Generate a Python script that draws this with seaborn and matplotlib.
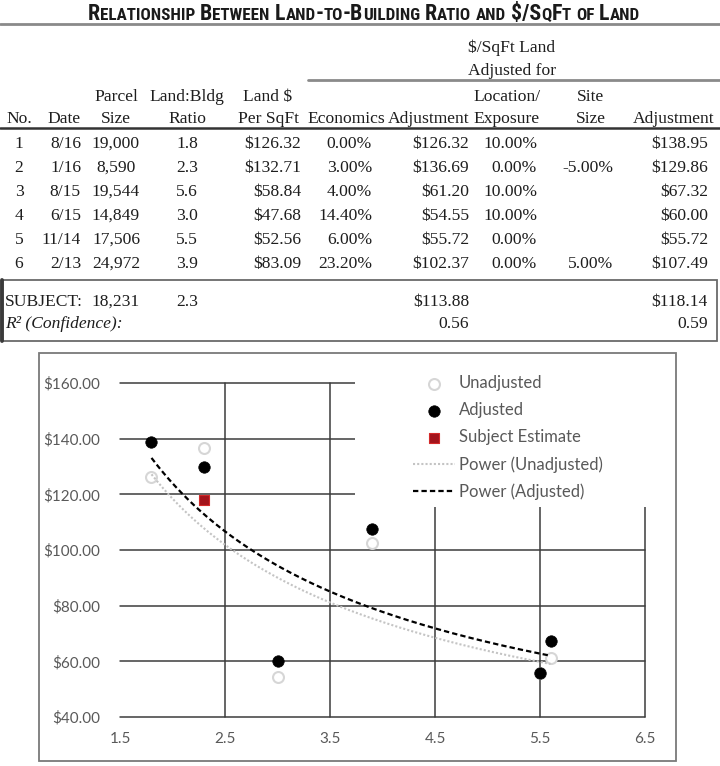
import numpy as np
import pandas as pd
import matplotlib
matplotlib.use("Agg")
import matplotlib.pyplot as plt
import seaborn as sns
from matplotlib.patches import Rectangle
from matplotlib.lines import Line2D
from matplotlib import font_manager

# ---------------- data ----------------
comp_no = ["1", "2", "3", "4", "5", "6"]
sale_date = ["8/16", "1/16", "8/15", "6/15", "11/14", "2/13"]
parcel_size = ["19,000", "8,590", "19,544", "14,849", "17,506", "24,972"]
land_bldg_ratio = [1.8, 2.3, 5.6, 3.0, 5.5, 3.9]
land_per_sqft = [126.32, 132.71, 58.84, 47.68, 52.56, 83.09]
economics_adj = ["0.00%", "3.00%", "4.00%", "14.40%", "6.00%", "23.20%"]
econ_adjusted = [126.32, 136.69, 61.20, 54.55, 55.72, 102.37]
location_adj = ["10.00%", "0.00%", "10.00%", "10.00%", "0.00%", "0.00%"]
site_size_adj = ["", "-5.00%", "", "", "", "5.00%"]
final_adjusted = [138.95, 129.86, 67.32, 60.00, 55.72, 107.49]
subject_size = "18,231"
subject_ratio = 2.3
subject_unadj_est = 113.88
subject_adj_est = 118.14
r2_unadj = 0.56
r2_adj = 0.59
y_ticks = [40, 60, 80, 100, 120, 140, 160]
x_ticks = [1.5, 2.5, 3.5, 4.5, 5.5, 6.5]
legend_labels = ["Unadjusted", "Adjusted", "Subject Estimate",
                 "Power (Unadjusted)", "Power (Adjusted)"]
title_src = "Relationship Between Land-to-Building Ratio and $/SqFt of Land"

# ---------------- setup ----------------
sns.set_style("white")
plt.rcParams["font.family"] = ["Lato", "DejaVu Sans"]

FW, FH = 720, 766
fig = plt.figure(figsize=(FW / 100, FH / 100), dpi=100)
fig.patch.set_facecolor("white")

SERIF = ["Liberation Serif", "DejaVu Serif"]
TXT = "#1e1e1e"
TS = 12.6  # table font size (pt)


def fx(x):
    return x / FW


def fy(y):
    return 1 - y / FH


def tt(x, yc, s, ha="left", **kw):
    fig.text(fx(x), fy(yc + 6), s, ha=ha, va="baseline", fontsize=TS,
             family=SERIF, color=TXT, **kw)


def hline(x0, x1, y, color="#555555", lw=1.5):
    fig.add_artist(Line2D([fx(x0), fx(x1)], [fy(y), fy(y)],
                          transform=fig.transFigure, color=color, lw=lw))


# ---------------- title font: prefer a narrow bold sans ----------------
def pick_title_font():
    ents = font_manager.fontManager.ttflist
    wanted = ["Liberation Sans Narrow", "Roboto Condensed", "Open Sans Condensed",
              "Noto Sans Condensed", "DejaVu Sans Condensed"]
    for name in wanted:
        for e in ents:
            if e.name == name and e.style == "normal" and \
                    (e.weight in ("bold", 700) or str(e.weight) == "700"):
                return font_manager.FontProperties(fname=e.fname)
    for e in ents:
        if e.name == "DejaVu Sans" and "condensed" in str(e.stretch).lower() \
                and e.style == "normal" and (e.weight in ("bold", 700) or str(e.weight) == "700"):
            return font_manager.FontProperties(fname=e.fname)
    for e in ents:
        if "Condensed" in e.fname and "Bold" in e.fname and "Oblique" not in e.fname \
                and "Italic" not in e.fname and "Sans" in e.fname:
            return font_manager.FontProperties(fname=e.fname)
    return font_manager.FontProperties(family="Liberation Sans", weight="bold")


title_fp = pick_title_font()
renderer = fig.canvas.get_renderer()
runs = []
for ch in title_src:
    small = ch.islower()
    if runs and runs[-1][1] == small:
        runs[-1][0] += ch
    else:
        runs.append([ch, small])


def text_w(s, size):
    fp = title_fp.copy()
    fp.set_size(size)
    t1 = fig.text(0, 0, "|" + s + "|", fontproperties=fp)
    t2 = fig.text(0, 0, "||", fontproperties=fp)
    w = t1.get_window_extent(renderer).width - t2.get_window_extent(renderer).width
    t1.remove()
    t2.remove()
    return w


BIG0 = 14.0
RATIO = 0.78
widths = [text_w(r.upper(), BIG0 * (RATIO if sm else 1.0)) for r, sm in runs]
scale = 552.0 / sum(widths)
big = BIG0 * scale
xcur = 364 - 552.0 / 2
for (r, sm), w in zip(runs, widths):
    fp = title_fp.copy()
    fp.set_size(big * (RATIO if sm else 1.0))
    fig.text(fx(xcur), fy(20), r.upper(), fontproperties=fp,
             color="#1a1a1a", ha="left", va="baseline")
    xcur += w * scale

hline(0, 720, 24, color="#8a8a8a", lw=2.0)

# ---------------- table ----------------
C_NO, C_DATE, C_SIZE, C_RATIO = 19, 81, 116, 187
C_LAND_H, C_LAND_V = 268, 301
C_ECON_H, C_ECON_V = 346, 372
C_ADJ1_H, C_ADJ1_V = 429, 469
C_LOC_H, C_LOC_V = 507, 537
C_SITE_H, C_SITE_V = 591, 613
C_ADJ2_H, C_ADJ2_V = 674, 708

tt(512, 46, "$/SqFt Land", ha="center")
tt(512, 69, "Adjusted for", ha="center")
hline(308, 720, 80, color="#8a8a8a", lw=2.0)

YA, YB = 95, 117
tt(C_SIZE, YA, "Parcel", ha="center")
tt(C_RATIO, YA, "Land:Bldg", ha="center")
tt(C_LAND_H, YA, "Land $", ha="center")
tt(C_LOC_H, YA, "Location/", ha="center")
tt(C_SITE_H, YA, "Site", ha="center")

tt(C_NO, YB, "No.", ha="center")
tt(C_DATE, YB, "Date", ha="right")
tt(C_SIZE, YB, "Size", ha="center")
tt(C_RATIO, YB, "Ratio", ha="center")
tt(C_LAND_H, YB, "Per SqFt", ha="center")
tt(C_ECON_H, YB, "Economics", ha="center")
tt(C_ADJ1_H, YB, "Adjustment", ha="center")
tt(C_LOC_H, YB, "Exposure", ha="center")
tt(C_SITE_H, YB, "Size", ha="center")
tt(C_ADJ2_H, YB, "Adjustment", ha="center")
hline(0, 720, 128, color="#333333", lw=1.8)

ROW0, ROWH = 142, 24
for i in range(len(comp_no)):
    y = ROW0 + i * ROWH
    tt(C_NO, y, comp_no[i], ha="center")
    tt(C_DATE, y, sale_date[i], ha="right")
    tt(C_SIZE, y, parcel_size[i], ha="center")
    tt(C_RATIO, y, f"{land_bldg_ratio[i]:.1f}", ha="center")
    tt(C_LAND_V, y, f"${land_per_sqft[i]:.2f}", ha="right")
    tt(C_ECON_V, y, economics_adj[i], ha="right")
    tt(C_ADJ1_V, y, f"${econ_adjusted[i]:.2f}", ha="right")
    tt(C_LOC_V, y, location_adj[i], ha="right")
    if site_size_adj[i]:
        tt(C_SITE_V, y, site_size_adj[i], ha="right")
    tt(C_ADJ2_V, y, f"${final_adjusted[i]:.2f}", ha="right")

# subject box
BOX_T, BOX_B = 280, 341
fig.add_artist(Rectangle((fx(2), fy(BOX_B)), fx(715), (BOX_B - BOX_T) / FH,
                         transform=fig.transFigure, fill=False,
                         ec="#6a6a6a", lw=1.3))
fig.add_artist(Line2D([fx(2), fx(2)], [fy(BOX_T), fy(BOX_B)],
                      transform=fig.transFigure, color="#3a3a3a", lw=2.8))
YS, YR = 300, 322
tt(5, YS, "SUBJECT:", ha="left")
tt(C_SIZE, YS, subject_size, ha="center")
tt(C_RATIO, YS, f"{subject_ratio:.1f}", ha="center")
tt(C_ADJ1_V, YS, f"${subject_unadj_est:.2f}", ha="right")
tt(C_ADJ2_V, YS, f"${subject_adj_est:.2f}", ha="right")
tt(5, YR, "R\u00b2 (Confidence):", ha="left", style="italic")
tt(C_ADJ1_V, YR, f"{r2_unadj:.2f}", ha="right")
tt(C_ADJ2_V, YR, f"{r2_adj:.2f}", ha="right")

# ---------------- chart ----------------
fig.add_artist(Rectangle((fx(39), fy(761)), 637 / FW, 408 / FH,
                         transform=fig.transFigure, fill=False,
                         ec="#7a7a7a", lw=1.3))

ax = fig.add_axes([fx(120), fy(717), 525 / FW, 334 / FH])
ax.set_facecolor("none")

df = pd.DataFrame({"ratio": land_bldg_ratio,
                   "unadj": econ_adjusted,
                   "adj": final_adjusted})

# power trendlines fitted from the data
bu, lau = np.polyfit(np.log(df["ratio"]), np.log(df["unadj"]), 1)
ba, laa = np.polyfit(np.log(df["ratio"]), np.log(df["adj"]), 1)
xs = np.linspace(min(land_bldg_ratio), max(land_bldg_ratio), 200)
fit_df = pd.DataFrame({"x": xs,
                       "fu": np.exp(lau) * xs ** bu,
                       "fa": np.exp(laa) * xs ** ba})

sns.scatterplot(data=df, x="ratio", y="unadj", ax=ax, marker="o", s=62,
                facecolor="white", edgecolor="#d6d6d6", linewidth=1.5,
                label=legend_labels[0], zorder=3)
sns.scatterplot(data=df, x="ratio", y="adj", ax=ax, marker="o", s=68,
                color="black", edgecolor="black", linewidth=0.5,
                label=legend_labels[1], zorder=4)
sns.scatterplot(x=[subject_ratio], y=[subject_adj_est], ax=ax, marker="s",
                s=55, color="#a3141c", edgecolor="#d42a2a", linewidth=0.8,
                label=legend_labels[2], zorder=5)
sns.lineplot(data=fit_df, x="x", y="fu", ax=ax, color="#c4c4c4", lw=1.5,
             linestyle=(0, (1, 1)), label=legend_labels[3], zorder=3.5)
sns.lineplot(data=fit_df, x="x", y="fa", ax=ax, color="black", lw=1.6,
             linestyle=(0, (2.4, 1.4)), label=legend_labels[4], zorder=3.6)

ax.set_xlim(1.5, 6.5)
ax.set_ylim(40, 160)
ax.set_xticks(x_ticks)
ax.set_yticks(y_ticks)
ax.set_xticklabels([f"{v:.1f}" for v in x_ticks])
ax.set_yticklabels([f"${v:.2f}" for v in y_ticks])
ax.set_xlabel("")
ax.set_ylabel("")
for s in ax.spines.values():
    s.set_visible(False)
ax.set_axisbelow(True)
ax.grid(True, color="#3c3c3c", lw=1.1)
ax.tick_params(axis="both", length=0, colors="#595959", labelsize=11)
ax.tick_params(axis="y", pad=14)
ax.tick_params(axis="x", pad=11)
for gl in ax.get_xgridlines() + ax.get_ygridlines():
    gl.set_clip_on(False)
ax.get_xgridlines()[0].set_visible(False)

# white legend area covering the grid
ax.add_patch(Rectangle((3.74, 115.4), 2.9, 50, transform=ax.transData,
                       facecolor="white", edgecolor="none", zorder=1,
                       clip_on=False))

leg = ax.legend(loc="upper left", bbox_to_anchor=(fx(413), fy(375)),
                bbox_transform=fig.transFigure, frameon=False,
                borderpad=0, borderaxespad=0, handlelength=2.5,
                handletextpad=0.25, labelspacing=0.66, fontsize=12)
for t in leg.get_texts():
    t.set_color("#595959")

fig.savefig("out.png", dpi=100, facecolor="white")
